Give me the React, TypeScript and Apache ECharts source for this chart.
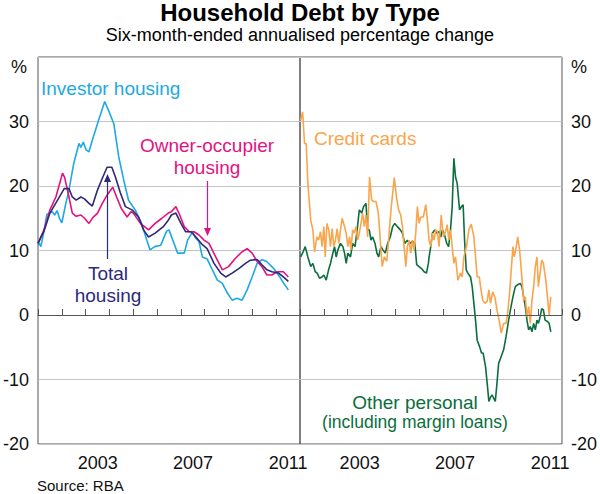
import React, { useEffect, useRef } from "react";
import * as echarts from "echarts";

// [decimal year, % change]
const investorHousing: [number, number][] = [
  [2001.0, 10.8], [2001.05, 11.1], [2001.12, 10.6], [2001.25, 13.0], [2001.37, 15.6], [2001.47, 15.8],
  [2001.6, 16.0], [2001.7, 15.5], [2001.8, 16.2], [2001.9, 15.0], [2002.0, 14.3], [2002.15, 17.0],
  [2002.3, 19.4], [2002.5, 23.5], [2002.72, 26.6], [2002.8, 26.0], [2002.9, 26.8], [2003.02, 25.6],
  [2003.14, 25.3], [2003.28, 27.1], [2003.5, 29.7], [2003.8, 33.1], [2003.95, 31.8], [2004.18, 29.7],
  [2004.39, 24.5], [2004.6, 20.9], [2004.8, 17.8], [2005.08, 16.3], [2005.35, 14.2], [2005.57, 11.6],
  [2005.7, 10.1], [2005.9, 10.6], [2006.15, 10.8], [2006.4, 13.0], [2006.5, 13.2], [2006.62, 12.0],
  [2006.86, 9.6], [2007.14, 9.6], [2007.28, 11.6], [2007.49, 12.9], [2007.6, 12.0], [2007.76, 11.4],
  [2007.9, 9.0], [2008.1, 8.7], [2008.32, 7.0], [2008.53, 5.4], [2008.74, 4.9], [2008.95, 3.4],
  [2009.15, 2.3], [2009.35, 2.6], [2009.57, 2.3], [2009.78, 3.9], [2009.99, 5.9], [2010.2, 8.0],
  [2010.4, 8.6], [2010.6, 8.3], [2010.9, 7.2], [2011.15, 5.9], [2011.3, 5.0], [2011.51, 3.9],
];

const ownerOccupierHousing: [number, number][] = [
  [2001.0, 11.1], [2001.25, 13.2], [2001.5, 16.3], [2001.75, 18.3], [2002.03, 22.0], [2002.12, 21.3],
  [2002.3, 18.3], [2002.44, 15.8], [2002.6, 15.3], [2002.8, 15.5], [2002.95, 15.0], [2003.14, 14.2],
  [2003.3, 15.1], [2003.5, 15.8], [2003.7, 17.3], [2003.9, 18.6], [2004.14, 19.8], [2004.3, 18.3],
  [2004.5, 16.5], [2004.74, 15.2], [2004.9, 16.0], [2005.0, 15.8], [2005.3, 14.2], [2005.64, 13.2],
  [2005.92, 14.2], [2006.2, 15.0], [2006.47, 15.8], [2006.6, 16.0], [2006.79, 16.8], [2006.95, 15.5],
  [2007.14, 13.7], [2007.35, 12.9], [2007.55, 12.9], [2007.76, 12.4], [2007.97, 11.6], [2008.18, 11.1],
  [2008.46, 9.0], [2008.74, 7.0], [2009.0, 7.5], [2009.29, 8.8], [2009.57, 9.8], [2009.78, 10.3],
  [2009.99, 9.6], [2010.2, 8.3], [2010.4, 7.5], [2010.61, 6.2], [2010.82, 6.2], [2011.03, 6.7],
  [2011.3, 6.7], [2011.51, 5.9],
];

const totalHousing: [number, number][] = [
  [2001.0, 11.1], [2001.25, 13.0], [2001.5, 15.8], [2001.82, 17.8], [2002.1, 19.6], [2002.3, 19.6],
  [2002.44, 18.3], [2002.6, 17.8], [2002.8, 18.3], [2002.95, 18.0], [2003.14, 17.3], [2003.28, 16.9],
  [2003.5, 19.4], [2003.7, 21.2], [2003.9, 22.9], [2004.1, 22.9], [2004.25, 21.4], [2004.46, 18.9],
  [2004.67, 16.8], [2004.95, 16.3], [2005.22, 15.2], [2005.43, 13.2], [2005.64, 12.1], [2005.92, 12.7],
  [2006.26, 13.7], [2006.47, 14.7], [2006.6, 15.5], [2006.79, 15.8], [2007.0, 14.2], [2007.2, 12.9],
  [2007.42, 12.9], [2007.63, 12.1], [2007.9, 10.9], [2008.1, 10.3], [2008.39, 8.0], [2008.67, 6.5],
  [2008.88, 5.9], [2009.15, 6.5], [2009.43, 7.2], [2009.71, 8.0], [2009.92, 8.5], [2010.2, 8.6],
  [2010.4, 7.8], [2010.61, 7.0], [2010.82, 6.7], [2011.1, 6.5], [2011.3, 5.9], [2011.51, 5.2],
];

const creditCards: [number, number][] = [
  [2001.03, 30.2], [2001.11, 31.5], [2001.19, 26.6], [2001.26, 26.6], [2001.33, 20.4], [2001.45, 14.7],
  [2001.54, 13.2], [2001.61, 9.8], [2001.71, 12.1], [2001.78, 11.6], [2001.86, 12.9], [2001.93, 10.6],
  [2002.0, 13.7], [2002.06, 9.0], [2002.13, 14.2], [2002.21, 13.2], [2002.28, 10.6], [2002.35, 13.4],
  [2002.42, 10.6], [2002.49, 11.6], [2002.56, 13.4], [2002.63, 11.1], [2002.7, 13.2], [2002.77, 15.0],
  [2002.87, 13.7], [2002.94, 12.7], [2003.01, 10.6], [2003.08, 12.1], [2003.14, 10.1], [2003.21, 13.2],
  [2003.28, 12.7], [2003.35, 13.7], [2003.42, 11.6], [2003.49, 12.7], [2003.56, 14.2], [2003.63, 15.8],
  [2003.7, 13.7], [2003.77, 15.5], [2003.84, 12.1], [2003.92, 21.4], [2004.01, 17.8], [2004.09, 17.6],
  [2004.19, 17.6], [2004.29, 15.8], [2004.37, 11.6], [2004.45, 7.5], [2004.54, 9.0], [2004.64, 8.3],
  [2004.72, 11.6], [2004.82, 16.3], [2004.96, 21.3], [2005.05, 18.3], [2005.14, 16.3], [2005.23, 15.5],
  [2005.3, 13.7], [2005.37, 10.6], [2005.44, 7.5], [2005.51, 10.6], [2005.58, 11.6], [2005.65, 9.6],
  [2005.72, 11.6], [2005.79, 10.1], [2005.86, 12.7], [2005.93, 16.8], [2006.0, 14.2], [2006.07, 15.2],
  [2006.18, 15.2], [2006.28, 17.1], [2006.35, 14.7], [2006.42, 11.6], [2006.49, 10.6], [2006.56, 12.7],
  [2006.63, 11.6], [2006.7, 13.2], [2006.77, 12.9], [2006.84, 10.6], [2006.93, 15.5], [2007.02, 12.1],
  [2007.11, 12.9], [2007.18, 14.0], [2007.25, 11.6], [2007.32, 13.2], [2007.39, 10.6], [2007.46, 8.0],
  [2007.53, 9.0], [2007.63, 5.4], [2007.74, 6.5], [2007.81, 5.9], [2007.88, 9.0], [2007.99, 10.6],
  [2008.09, 13.2], [2008.19, 14.1], [2008.3, 12.1], [2008.37, 9.0], [2008.44, 5.9], [2008.53, 5.9],
  [2008.58, 4.4], [2008.67, 2.3], [2008.76, 1.8], [2008.86, 2.1], [2008.93, 3.9], [2009.0, 1.8],
  [2009.09, 3.6], [2009.18, 2.8], [2009.27, 0.8], [2009.37, -1.0], [2009.45, -2.8], [2009.55, -1.3],
  [2009.65, -1.3], [2009.72, 0.3], [2009.8, 3.4], [2009.87, 7.0], [2009.94, 10.6], [2010.0, 9.0],
  [2010.08, 10.6], [2010.14, 12.1], [2010.22, 10.1], [2010.29, 7.0], [2010.39, 2.3], [2010.46, 2.8],
  [2010.53, -0.3], [2010.6, 1.3], [2010.67, -1.3], [2010.74, 2.3], [2010.81, 4.4], [2010.88, 7.5],
  [2010.95, 9.0], [2011.01, 4.4], [2011.08, 6.5], [2011.15, 8.5], [2011.22, 8.0], [2011.32, 5.4],
  [2011.39, 2.8], [2011.46, 0.0], [2011.53, 2.8],
];

const otherPersonal: [number, number][] = [
  [2001.03, 9.0], [2001.13, 9.8], [2001.22, 10.6], [2001.33, 9.0], [2001.45, 7.5], [2001.54, 8.0],
  [2001.64, 6.7], [2001.72, 6.5], [2001.82, 5.7], [2001.92, 5.9], [2002.0, 6.2], [2002.1, 5.4],
  [2002.2, 7.0], [2002.28, 8.0], [2002.38, 9.6], [2002.45, 10.6], [2002.52, 9.0], [2002.59, 10.1],
  [2002.7, 11.1], [2002.8, 10.6], [2002.87, 9.6], [2002.94, 8.0], [2003.01, 9.6], [2003.12, 9.0],
  [2003.21, 11.1], [2003.31, 10.6], [2003.4, 13.2], [2003.49, 16.3], [2003.59, 15.8], [2003.67, 16.8],
  [2003.77, 17.3], [2003.84, 13.2], [2003.91, 13.2], [2003.98, 11.6], [2004.05, 12.1], [2004.15, 11.1],
  [2004.23, 9.6], [2004.3, 9.0], [2004.4, 10.6], [2004.48, 10.1], [2004.58, 9.6], [2004.68, 11.1],
  [2004.79, 12.1], [2004.89, 13.7], [2004.98, 14.2], [2005.09, 13.7], [2005.21, 13.2], [2005.3, 12.7],
  [2005.4, 11.1], [2005.51, 11.6], [2005.62, 11.1], [2005.72, 11.4], [2005.82, 11.1], [2005.9, 7.8],
  [2006.0, 7.5], [2006.1, 7.2], [2006.21, 6.7], [2006.31, 6.5], [2006.39, 8.0], [2006.42, 9.0],
  [2006.49, 10.6], [2006.56, 12.7], [2006.66, 13.2], [2006.74, 12.7], [2006.84, 12.9], [2006.91, 12.1],
  [2006.98, 13.2], [2007.07, 12.4], [2007.16, 11.1], [2007.24, 10.6], [2007.32, 13.2], [2007.39, 16.8],
  [2007.46, 24.3], [2007.53, 21.4], [2007.6, 20.4], [2007.7, 16.3], [2007.78, 16.8], [2007.85, 17.1],
  [2007.91, 11.6], [2007.98, 7.0], [2008.05, 6.5], [2008.16, 5.9], [2008.23, 4.4], [2008.3, 1.8],
  [2008.37, -0.8], [2008.44, -3.9], [2008.54, -4.9], [2008.62, -5.9], [2008.69, -5.9], [2008.79, -8.0],
  [2008.86, -10.6], [2008.93, -13.4], [2009.0, -12.7], [2009.07, -12.4], [2009.13, -12.9], [2009.2, -13.4],
  [2009.27, -10.6], [2009.34, -7.5], [2009.44, -6.5], [2009.55, -5.4], [2009.65, -3.4], [2009.76, -0.8],
  [2009.86, 1.3], [2009.94, 2.8], [2010.04, 4.4], [2010.14, 4.7], [2010.25, 4.9], [2010.32, 4.4],
  [2010.39, 2.8], [2010.46, 1.3], [2010.53, -0.8], [2010.6, -2.3], [2010.67, -1.8], [2010.74, -2.6],
  [2010.81, -1.3], [2010.88, -2.3], [2010.95, -0.8], [2011.01, -1.3], [2011.08, -0.3], [2011.15, 1.0],
  [2011.22, 0.8], [2011.29, -0.8], [2011.39, -1.0], [2011.46, -1.3], [2011.53, -2.6],
];

const yearLabels = [2003, 2007, 2011];

const FONT = "'Liberation Sans', Arial, sans-serif";
const C_INV = "#1ea9e1";
const C_OWN = "#e4127f";
const C_TOT = "#2d2a7c";
const C_CC = "#f9a54c";
const C_OTH = "#0a6e3d";

export default function App() {
  const ref = useRef<HTMLDivElement>(null);
  useEffect(() => {
    if (!ref.current) return;
    const chart = echarts.init(ref.current, null, { renderer: "svg" });

    const xAxisBase = (gridIndex: number) => ({
      type: "value" as const,
      gridIndex,
      min: 2001,
      max: 2012,
      interval: 1,
      axisLine: { show: true, lineStyle: { color: "#555", width: 1 } },
      axisTick: { show: true, inside: true, length: 6, lineStyle: { color: "#555", width: 1 } },
      splitLine: { show: false },
      axisLabel: {
        show: true,
        color: "#111",
        fontFamily: FONT,
        fontSize: 18,
        margin: 10,
        padding: [0, 0, 0, 24],
        showMinLabel: true,
        showMaxLabel: true,
        formatter: (v: number) => (yearLabels.includes(Math.round(v)) ? String(Math.round(v)) : ""),
      },
    });

    const yAxisBase = (gridIndex: number, position: "left" | "right") => ({
      type: "value" as const,
      gridIndex,
      position,
      min: -20,
      max: 40,
      interval: 10,
      axisLine: { show: false },
      axisTick: { show: false },
      splitLine: { show: true, lineStyle: { color: "#c4c4c4", width: 1 } },
      axisLabel: {
        color: "#111",
        fontFamily: FONT,
        fontSize: 18,
        margin: 9,
        formatter: (v: number) => (v === 40 ? "" : String(v)),
      },
    });

    const lineSeries = (name: string, data: [number, number][], color: string, idx: number, extra: any = {}) => ({
      type: "line" as const,
      name,
      data,
      xAxisIndex: idx,
      yAxisIndex: idx,
      showSymbol: false,
      symbol: "none",
      lineStyle: { color, width: 1.6 },
      itemStyle: { color },
      ...extra,
    });

    const zeroLine = {
      silent: true,
      symbol: "none",
      label: { show: false },
      lineStyle: { color: "#555", width: 1, type: "solid" },
      data: [{ yAxis: 0 }],
    };

    const arrowHead = (x: number, y: number, dir: 1 | -1, color: string) => ({
      type: "polygon",
      shape: { points: [[x - 3.5, y - dir * 8], [x + 3.5, y - dir * 8], [x, y]] },
      style: { fill: color },
      z: 100,
    });

    const txt = (
      text: string,
      x: number,
      y: number,
      size: number,
      color: string,
      align = "center",
      weight = "normal"
    ) => ({
      type: "text",
      x,
      y,
      z: 100,
      style: {
        text,
        fill: color,
        fontSize: size,
        fontFamily: FONT,
        fontWeight: weight,
        align,
        verticalAlign: "middle",
      },
    });

    chart.setOption({
      animation: false,
      backgroundColor: "#fff",
      grid: [
        { left: 36, top: 57, width: 264, height: 387, show: true, borderColor: "#555", borderWidth: 1, backgroundColor: "transparent" },
        { left: 300, top: 57, width: 263, height: 387, show: true, borderColor: "#555", borderWidth: 1, backgroundColor: "transparent" },
      ],
      xAxis: [xAxisBase(0), xAxisBase(1)],
      yAxis: [yAxisBase(0, "left"), yAxisBase(1, "right")],
      series: [
        lineSeries("Investor housing", investorHousing, C_INV, 0, { markLine: zeroLine }),
        lineSeries("Owner-occupier housing", ownerOccupierHousing, C_OWN, 0),
        lineSeries("Total housing", totalHousing, C_TOT, 0),
        lineSeries("Other personal", otherPersonal, C_OTH, 1, { markLine: zeroLine }),
        lineSeries("Credit cards", creditCards, C_CC, 1),
      ],
      graphic: [
        txt("Household Debt by Type", 300, 12.5, 24, "#000", "center", "bold"),
        txt("Six-month-ended annualised percentage change", 300, 34.5, 18, "#000"),
        txt("%", 19, 67, 18, "#111"),
        txt("%", 579, 67, 18, "#111"),
        txt("Source: RBA", 37, 485, 15, "#111", "left"),
        txt("Investor housing", 41, 88, 19, C_INV, "left"),
        txt("Owner-occupier", 207, 145, 19, C_OWN),
        txt("housing", 207, 167, 19, C_OWN),
        txt("Total", 108, 273, 19, C_TOT),
        txt("housing", 108, 295, 19, C_TOT),
        txt("Credit cards", 314, 138, 19, C_CC, "left"),
        txt("Other personal", 415, 402, 19, C_OTH),
        txt("(including margin loans)", 415, 422, 17.5, C_OTH),
        { type: "line", z: 100, shape: { x1: 207.5, y1: 181, x2: 207.5, y2: 230 }, style: { stroke: C_OWN, lineWidth: 1.2 } },
        arrowHead(207.5, 236, 1, C_OWN),
        { type: "line", z: 100, shape: { x1: 107.5, y1: 259, x2: 107.5, y2: 180 }, style: { stroke: C_TOT, lineWidth: 1.2 } },
        arrowHead(107.5, 174, -1, C_TOT),
      ],
    });

    return () => chart.dispose();
  }, []);

  return (
    <div
      ref={ref}
      style={{ position: "absolute", left: 0, top: 0, width: 600, height: 494, background: "#fff" }}
    />
  );
}
